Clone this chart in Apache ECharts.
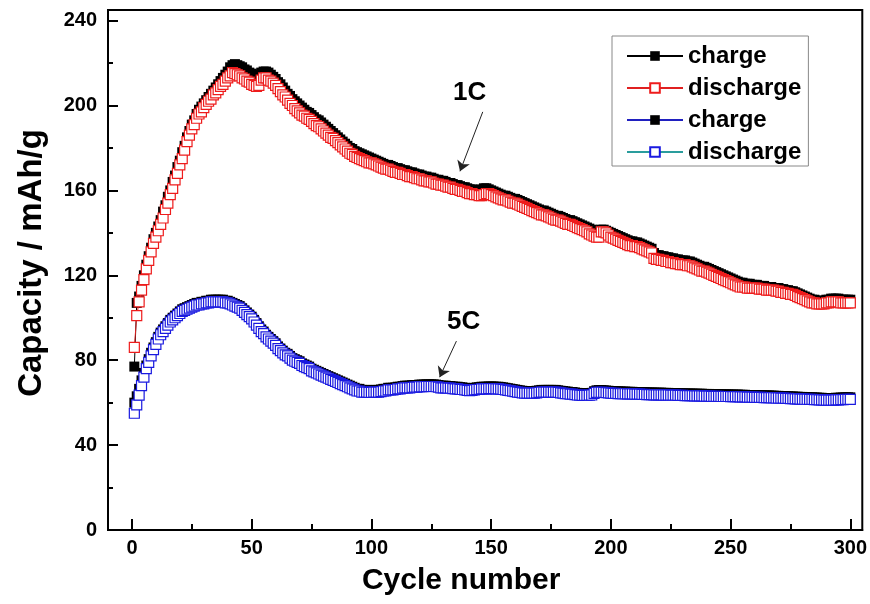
<!DOCTYPE html>
<html><head><meta charset="utf-8">
<script src="https://cdn.jsdelivr.net/npm/echarts@6/dist/echarts.min.js"></script>
<style>html,body{margin:0;padding:0;background:#fff}#c{width:870px;height:604px}</style>
</head><body><div id="c"></div>
<script>
const xTicks = [0, 50, 100, 150, 200, 250, 300];
const xMinorTicks = [25, 75, 125, 175, 225, 275];
const yTicks = [0, 40, 80, 120, 160, 200, 240];
const yMinorTicks = [20, 60, 100, 140, 180, 220];
const legendLabels = ['charge', 'discharge', 'charge', 'discharge'];

const charge1C = [
77,107,110,115,120,125,129,133,137,140,
143,146,150,153,157,160,164,167,171,174,
178,181,185,188,191,193,196,198,199.5,201,
202.5,204,205.5,207,208.5,210,211.5,213,214.5,216,
218,219,219.5,219,218.5,218,217,216.5,215.5,215,
214.5,214,214,215.5,216,216,215.5,214.5,213.5,212.5,
211,210,208.5,207,205.5,204.5,203,202,201,200,
199,198,197,196.5,195.5,194.5,193.5,193,192,191,
190,189,188,187,186,185,184,183,182,181,
180,179.5,178.5,178,177.5,177,176.5,176,175.5,175,
174.5,174,173.5,173,172.5,172,172,171.5,171,170.5,
170.5,170,169.5,169.5,169,168.5,168.5,168,167.5,167.5,
167,166.5,166.5,166,166,165.5,165,165,164.5,164.5,
164,163.5,163.5,163,162.5,162.5,162,161.5,161.5,161,
160.5,160.5,160,160,160,160.5,161,161,160.5,160,
159.5,159,158.5,158,157.5,157.5,157,156.5,156,156,
155.5,155,154.5,154,153.5,153,152.5,152,151.5,151,
150.5,150.5,150,149.5,149,148.5,148,148,147.5,147,
146.5,146,146,145.5,145,144.5,144,143.5,143,142.5,
142,141.5,141,140.5,140,141.5,141.5,141,140.5,140,
139.5,139,138.5,138,137.5,137,136.5,136,136,135.5,
135.5,135,134.5,134,133.5,133,132.5,130.5,129.5,129.5,
129,129,128.5,128.5,128,128,127.5,127.5,127,127,
127,126.5,126.5,126,125.5,125,124.5,124,124,123.5,
123,122.5,122,121.5,121,120.5,120,119.5,119,118.5,
118,117.5,117,116.5,116.5,116,116,116,115.5,115.5,
115.5,115,115,115,114.5,114.5,114.5,114,114,114,
113.5,113.5,113,113,112.5,112.5,112,111.5,111,110.5,
110,109.5,109,108.5,108.5,108,108,108,108,108.5,
108.5,109,109,109,109,108.5,108.5,108.5,108.5,108.5
];

const discharge1C = [
86,101,107.5,113,118,123,127,131,135,138,
141,144,147,151,154,158,161,165,168,172,
175,179,183,186,189,191,194,196,197,199,
200.5,202,203,205,206,207.5,209,210,211.5,213,
214,215.5,215,214.5,214,213,212.5,211.5,211,210,
209.5,209,209.5,212,213,213,212,211.5,210.5,209.5,
208,206.5,205,204,202.5,201,200,198.5,197.5,196.5,
195.5,195,194,193.5,192.5,191.5,190.5,190,189,188,
187,186,185,184.5,183.5,182.5,181.5,180.5,179.5,178.5,
177.5,177,176,175.5,175,174.5,174,173.5,173,173,
172.5,172,171.5,171,170.5,170,170,169.5,169,168.5,
168.5,168,167.5,167.5,167,166.5,166.5,166,165.5,165.5,
165,164.5,164.5,164,164,163.5,163,163,162.5,162.5,
162,161.5,161.5,161,160.5,160.5,160,159.5,159.5,159,
158.5,158.5,158,158,157.5,157.5,158,158.5,158.5,158,
157.5,157,156.5,156,155.5,155.5,155,154.5,154,154,
153.5,153,152.5,152,151.5,151,150.5,150,149.5,149,
148.5,148.5,148,147.5,147,146.5,146,146,145.5,145,
144.5,144,144,143.5,143,142.5,142,141.5,141,140.5,
139.5,139,138.5,138,138,140.5,140.5,140,139,138,
137.5,137,136.5,136,135.5,135,134.5,134,134,133.5,
133.5,133,132.5,132,131.5,131,130.5,128,127.5,127.5,
127,127,126.5,126.5,126,126,125.5,125.5,125,125,
125,124.5,124.5,124,123.5,123,122.5,122,122,121.5,
121,120.5,120,119.5,119,118.5,118,117.5,117,116.5,
116,115.5,115,114.5,114.5,114.5,114,114,114,114,
114,113.5,113.5,113.5,113,113,113,113,112.5,112.5,
112,112,111.5,111.5,111,111,110.5,110,109.5,109,
108.5,108,107.5,107,107,106.5,106.5,106.5,106.5,107,
107,107.5,107.5,107.5,107.5,107,107,107,107,107
];

const charge5C = [
60,63,66.5,70.5,74,77.5,80.5,83.5,86,88.5,
91,93,94.5,96,97.5,99,100,101,102,103,
104,104.5,105,105.5,106,106.5,107,107,107.5,107.5,
108,108,108.5,108.5,108.5,108.5,108.5,108.5,108,108,
107.5,107,106.5,106,105.5,104.5,103.5,102.5,101.5,100.5,
99,97.5,96,94.5,93.5,92,91,90,89,88,
86.5,85.5,84.5,83.5,83,82,81,80.5,80,79.5,
78.5,78,77.5,77,76,75.5,75,74.5,74,73.5,
73,72.5,72,71.5,71,70.5,70,69.5,69,68.5,
68,67.5,67,66.5,66.5,66,66,66,65.8,65.8,
66,66,66,66.2,66.5,66.5,67,67,67,67.2,
67.5,67.5,67.8,68,68,68,68.2,68.3,68.3,68.5,
68.5,68.5,68.6,68.6,68.6,68.6,68.5,68.3,68,68,
68,67.8,67.8,67.6,67.5,67.5,67.3,67.2,67,66.8,
66.7,66.8,67,67.2,67.3,67.5,67.5,67.5,67.6,67.6,
67.6,67.5,67.5,67.4,67.2,67,66.8,66.6,66.4,66.2,
66,65.8,65.6,65.5,65.5,65.5,65.5,65.5,65.6,65.8,
66,66,66,66,66,66,66,65.8,65.6,65.5,
65.3,65.2,65,65,64.8,64.6,64.5,64.4,64.4,64.4,
64.5,64.6,65.4,65.8,65.9,65.9,65.8,65.7,65.6,65.5,
65.4,65.4,65.3,65.3,65.2,65.2,65.1,65.1,65.1,65,
65,65,64.9,64.9,64.8,64.8,64.8,64.7,64.7,64.7,
64.7,64.6,64.6,64.6,64.5,64.5,64.5,64.4,64.4,64.4,
64.3,64.3,64.3,64.3,64.2,64.2,64.2,64.2,64.1,64.1,
64.1,64,64,64,64,63.9,63.9,63.9,63.9,63.8,
63.8,63.8,63.8,63.7,63.7,63.7,63.6,63.6,63.6,63.5,
63.5,63.5,63.5,63.4,63.4,63.4,63.3,63.3,63.2,63.2,
63.1,63.1,63,63,62.9,62.9,62.8,62.8,62.7,62.7,
62.6,62.6,62.5,62.5,62.4,62.4,62.3,62.3,62.2,62.2,
62.2,62.2,62.2,62.3,62.3,62.4,62.4,62.5,62.5,62.5
];

const discharge5C = [
55,59,63.5,68,72,76,79,82,85,87.5,
90,92,93.5,95,96.5,98,99,100,101,102,
103,103.5,104,104.5,105,105.5,106,106,106.5,106.5,
107,107,107.5,107.5,107.5,107.5,107.5,107.5,107,107,
106.5,106,105.5,105,104.5,103.5,102.5,101.5,100.5,99.5,
98,96.5,95,93.5,92.5,91,90,89,88,87,
85.5,84.5,83.5,82.5,82,81,80,79.5,79,78.5,
77.5,77,76.5,76,75,74.5,74,73.5,73,72.5,
72,71.5,71,70.5,70,69.5,69,68.5,68,67.5,
67,66.5,66,65.5,65.5,65,65,65,64.8,64.8,
65,65,65,65.2,65.5,65.5,66,66,66,66.2,
66.5,66.5,66.8,67,67,67,67.2,67.3,67.3,67.5,
67.5,67.5,67.6,67.6,67.6,67.6,67.5,67.3,67,67,
67,66.8,66.8,66.6,66.5,66.5,66.3,66.2,66,65.8,
65.7,65.8,66,66.2,66.3,66.5,66.5,66.5,66.6,66.6,
66.6,66.5,66.5,66.4,66.2,66,65.8,65.6,65.4,65.2,
65,64.8,64.6,64.5,64.5,64.5,64.5,64.5,64.6,64.8,
65,65,65,65,65,65,65,64.8,64.6,64.5,
64.3,64.2,64,64,63.8,63.6,63.5,63.4,63.4,63.4,
63.5,63.6,64.4,64.8,64.9,64.9,64.8,64.7,64.6,64.5,
64.4,64.4,64.3,64.3,64.2,64.2,64.1,64.1,64.1,64,
64,64,63.9,63.9,63.8,63.8,63.8,63.7,63.7,63.7,
63.7,63.6,63.6,63.6,63.5,63.5,63.5,63.4,63.4,63.4,
63.3,63.3,63.3,63.3,63.2,63.2,63.2,63.2,63.1,63.1,
63.1,63,63,63,63,62.9,62.9,62.9,62.9,62.8,
62.8,62.8,62.8,62.7,62.7,62.7,62.6,62.6,62.6,62.5,
62.5,62.5,62.5,62.4,62.4,62.4,62.3,62.3,62.2,62.2,
62.1,62.1,62,62,61.9,61.9,61.8,61.8,61.7,61.7,
61.6,61.6,61.5,61.5,61.4,61.4,61.3,61.3,61.2,61.2,
61.2,61.2,61.2,61.3,61.3,61.4,61.4,61.5,61.5,61.5
];

const cycles = charge1C.map((_, i) => i + 1);

// annotation anchors in data coordinates
const annotations = [
  { text: '1C', label: [141, 206], from: [146.5, 197], to: [137, 169] },
  { text: '5C', label: [138.5, 98], from: [135.5, 89], to: [128.5, 72] }
];

const FONT = '"Liberation Sans", Arial, sans-serif';
const pairs = arr => cycles.map((c, i) => [c, arr[i]]);

const chart = echarts.init(document.getElementById('c'), null, { renderer: 'canvas' });

function mkSeries(name, data, lineColor, symColor, hollow, borderColor, z) {
  return {
    type: 'line', name, data: pairs(data), z,
    symbol: 'rect', symbolSize: 10, showAllSymbol: true,
    lineStyle: { color: lineColor, width: 1 },
    itemStyle: hollow
      ? { color: '#ffffff', borderColor: borderColor, borderWidth: 1.2 }
      : { color: symColor, borderColor: symColor, borderWidth: 0 },
    emphasis: { disabled: true },
    animation: false
  };
}

const series = [
  mkSeries('charge', charge1C, '#000000', '#000000', false, null, 2),
  mkSeries('discharge', discharge1C, '#e02020', null, true, '#ee1c1c', 3),
  mkSeries('charge ', charge5C, '#2020c0', '#000000', false, null, 4),
  mkSeries('discharge ', discharge5C, '#2a9d9d', null, true, '#1a1ae0', 5)
];

series[3].markLine = {
  silent: true, animation: false, symbol: ['none', 'arrow'], symbolSize: 10,
  lineStyle: { color: '#222', width: 1, type: 'solid' }, label: { show: false },
  emphasis: { disabled: true },
  data: annotations.map(a => [{ coord: a.from }, { coord: a.to }])
};

const axisCommon = {
  type: 'value', min: -10, max: 305, splitLine: { show: false }
};

chart.setOption({
  backgroundColor: '#fff',
  animation: false,
  grid: { left: 108, right: 6, top: 10, bottom: 74, show: true, borderColor: '#000', borderWidth: 2 },
  legend: {
    left: 612, top: 36, orient: 'vertical',
    data: ['charge', 'discharge', 'charge ', 'discharge '],
    formatter: n => n.trim(),
    itemWidth: 56, itemHeight: 12, itemGap: 8,
    padding: [8, 7, 2, 14],
    borderColor: '#888', borderWidth: 1,
    textStyle: { fontFamily: FONT, fontWeight: 'bold', fontSize: 24, color: '#000', lineHeight: 24 },
    selectedMode: false
  },
  xAxis: [
    Object.assign({}, axisCommon, {
      position: 'bottom',
      name: 'Cycle number', nameLocation: 'middle', nameGap: 36,
      nameTextStyle: { fontFamily: FONT, fontWeight: 'bold', fontSize: 30, color: '#000', padding: [0, 48, 0, 0] },
      axisLine: { show: true, onZero: false, lineStyle: { color: '#000', width: 2 } },
      axisTick: { show: true, inside: true, length: 11, customValues: xTicks, lineStyle: { color: '#000', width: 2 } },
      axisLabel: { show: true, customValues: xTicks, margin: 8, fontFamily: FONT, fontWeight: 'bold', fontSize: 20, color: '#000' }
    }),
    Object.assign({}, axisCommon, {
      position: 'bottom',
      axisLine: { show: false, onZero: false },
      axisTick: { show: true, inside: true, length: 6, customValues: xMinorTicks, lineStyle: { color: '#000', width: 2 } },
      axisLabel: { show: false }
    })
  ],
  yAxis: [
    {
      type: 'value', min: 0, max: 245, position: 'left', splitLine: { show: false },
      name: 'Capacity / mAh/g', nameLocation: 'middle', nameGap: 60, nameRotate: 90,
      nameTextStyle: { fontFamily: FONT, fontWeight: 'bold', fontSize: 33, color: '#000', padding: [0, 0, 0, 14] },
      axisLine: { show: true, onZero: false, lineStyle: { color: '#000', width: 2 } },
      axisTick: { show: true, inside: true, length: 10, customValues: yTicks, lineStyle: { color: '#000', width: 2 } },
      axisLabel: { show: true, customValues: yTicks, margin: 11, fontFamily: FONT, fontWeight: 'bold', fontSize: 20, color: '#000' }
    },
    {
      type: 'value', min: 0, max: 245, position: 'left', splitLine: { show: false },
      axisLine: { show: false, onZero: false },
      axisTick: { show: true, inside: true, length: 5, customValues: yMinorTicks, lineStyle: { color: '#000', width: 2 } },
      axisLabel: { show: false }
    }
  ],
  series: series
});

const texts = annotations.map(a => {
  const p = chart.convertToPixel({ xAxisIndex: 0, yAxisIndex: 0 }, a.label);
  return {
    type: 'text', x: p[0], y: p[1], z: 100,
    style: { text: a.text, fontFamily: FONT, fontWeight: 'bold', fontSize: 26, fill: '#000', align: 'center', verticalAlign: 'middle' }
  };
});
chart.setOption({ graphic: texts });
</script>
</body></html>
